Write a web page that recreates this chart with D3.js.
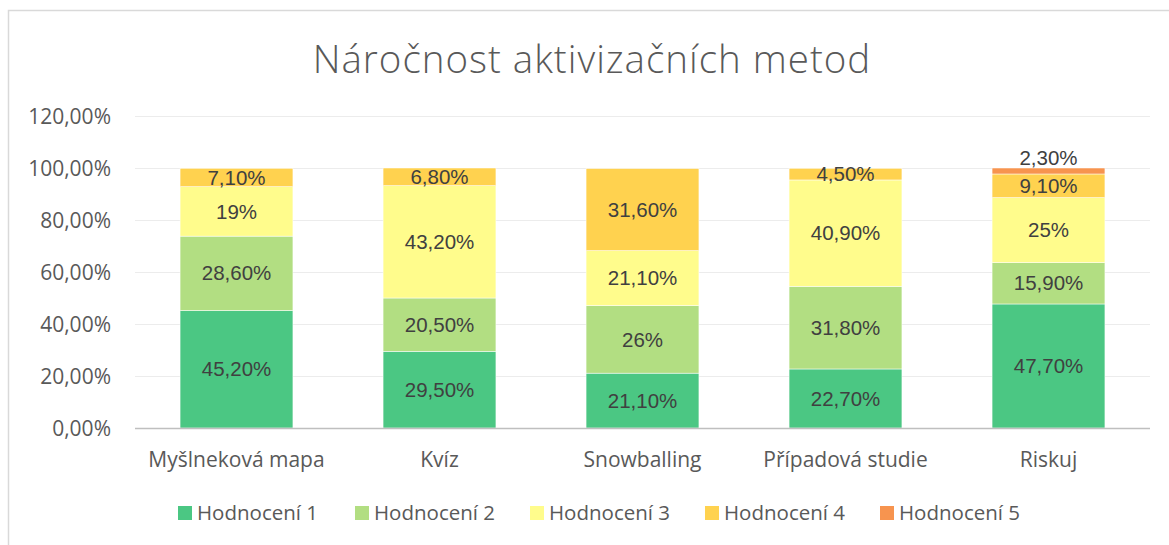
<!DOCTYPE html>
<html>
<head>
<meta charset="utf-8">
<script src="https://cdn.jsdelivr.net/npm/d3@7"></script>
<style>
  body { margin: 0; background: #fff; }
  svg { display: block; }
</style>
</head>
<body>
<svg id="chart" width="1169" height="545"></svg>
<script>
// données du graphique
const categories = ["Myšlneková mapa", "Kvíz", "Snowballing", "Případová studie", "Riskuj"];
const seriesNames = ["Hodnocení 1", "Hodnocení 2", "Hodnocení 3", "Hodnocení 4", "Hodnocení 5"];
const hodnoceni1 = [45.2, 29.5, 21.1, 22.7, 47.7];
const hodnoceni2 = [28.6, 20.5, 26, 31.8, 15.9];
const hodnoceni3 = [19, 43.2, 21.1, 40.9, 25];
const hodnoceni4 = [7.1, 6.8, 31.6, 4.5, 9.1];
const hodnoceni5 = [0, 0, 0, 0, 2.3];
const yTicks = [0, 20, 40, 60, 80, 100, 120];
const colors = ["#4bc783", "#b2de82", "#fffc8c", "#ffd24f", "#f7944f"];

const allSeries = [hodnoceni1, hodnoceni2, hodnoceni3, hodnoceni4, hodnoceni5];

const svg = d3.select("#chart");

// cadre du graphique
svg.append("rect")
    .attr("x", 8.5).attr("y", 10.5)
    .attr("width", 1300).attr("height", 600)
    .attr("fill", "none")
    .attr("stroke", "#d9d9d9")
    .attr("stroke-width", 1.5);

// titre
svg.append("text")
    .attr("x", 592).attr("y", 73)
    .attr("text-anchor", "middle")
    .attr("font-family", "'Open Sans', sans-serif")
    .attr("font-weight", 300)
    .attr("font-size", 38.5)
    .attr("fill", "#595959")
    .attr("letter-spacing", 1)
    .text("Náročnost aktivizačních metod");

const plotLeft = 135, plotRight = 1150, plotTop = 116, plotBottom = 428;

const x = d3.scaleBand()
    .domain(categories)
    .range([plotLeft, plotRight])
    .paddingInner(0.444)
    .paddingOuter(0.222);

const y = d3.scaleLinear()
    .domain([0, 120])
    .range([plotBottom, plotTop]);

// lignes de la grille
svg.append("g")
    .selectAll("line")
    .data(yTicks.filter(t => t > 0))
    .join("line")
    .attr("x1", plotLeft).attr("x2", plotRight)
    .attr("y1", d => y(d) + 0.5).attr("y2", d => y(d) + 0.5)
    .attr("stroke", "#ececec")
    .attr("stroke-width", 1.2);

// axe Y
const yAxis = d3.axisLeft(y)
    .tickValues(yTicks)
    .tickSize(0)
    .tickPadding(0)
    .tickFormat(d => d3.format(".2f")(d).replace(".", ",") + "%");

svg.append("g")
    .attr("transform", `translate(${plotLeft - 24},0)`)
    .call(yAxis)
    .call(g => g.select(".domain").remove())
    .selectAll("text")
    .attr("font-family", "'Open Sans', sans-serif")
    .attr("font-size", 21)
    .attr("fill", "#595959")
    .attr("dy", "0.35em");

// empilement des séries
const rows = categories.map((c, i) => {
    const row = {cat: c, idx: i};
    seriesNames.forEach((s, j) => row[s] = allSeries[j][i]);
    return row;
});
const stacked = d3.stack().keys(seriesNames)(rows);

const layers = svg.append("g")
    .selectAll("g")
    .data(stacked)
    .join("g")
    .attr("fill", (d, i) => colors[i]);

layers.selectAll("rect")
    .data(d => d.filter(p => p[1] - p[0] > 0))
    .join("rect")
    .attr("x", d => x(d.data.cat))
    .attr("width", x.bandwidth())
    .attr("y", d => y(d[1]))
    .attr("height", d => y(d[0]) - y(d[1]))
    .attr("stroke", "#fff")
    .attr("stroke-width", 0.5);

// étiquettes des valeurs
const fmtLabel = v => (Number.isInteger(v) ? String(v) : v.toFixed(2).replace(".", ",")) + "%";

layers.selectAll("text")
    .data(d => d.filter(p => p[1] - p[0] > 0).map(p => ({p: p, v: p.data[d.key]})))
    .join("text")
    .attr("x", d => x(d.p.data.cat) + x.bandwidth() / 2)
    .attr("y", d => {
        const h = y(d.p[0]) - y(d.p[1]);
        if (h < 10) return y(d.p[1]) - 10;
        return (y(d.p[0]) + y(d.p[1])) / 2;
    })
    .attr("dy", "0.35em")
    .attr("text-anchor", "middle")
    .attr("font-family", "'Liberation Sans', Arial, sans-serif")
    .attr("font-size", 20.5)
    .attr("fill", "#404040")
    .text(d => fmtLabel(d.v));

// axe X
svg.append("line")
    .attr("x1", plotLeft).attr("x2", plotRight)
    .attr("y1", plotBottom + 0.5).attr("y2", plotBottom + 0.5)
    .attr("stroke", "#bfbfbf")
    .attr("stroke-width", 1.5);

svg.append("g")
    .selectAll("text")
    .data(categories)
    .join("text")
    .attr("x", d => x(d) + x.bandwidth() / 2)
    .attr("y", 467)
    .attr("text-anchor", "middle")
    .attr("font-family", "'Open Sans', sans-serif")
    .attr("font-size", 21)
    .attr("fill", "#595959")
    .text(d => d);

// légende
const legendX = [178, 355, 530, 705, 880];
const legend = svg.append("g")
    .selectAll("g")
    .data(seriesNames)
    .join("g")
    .attr("transform", (d, i) => `translate(${legendX[i]},506)`);

legend.append("rect")
    .attr("width", 14).attr("height", 14)
    .attr("fill", (d, i) => colors[i]);

legend.append("text")
    .attr("x", 19).attr("y", 7)
    .attr("dy", "0.35em")
    .attr("font-family", "'Open Sans', sans-serif")
    .attr("font-size", 20.5)
    .attr("fill", "#595959")
    .text(d => d);
</script>
</body>
</html>
